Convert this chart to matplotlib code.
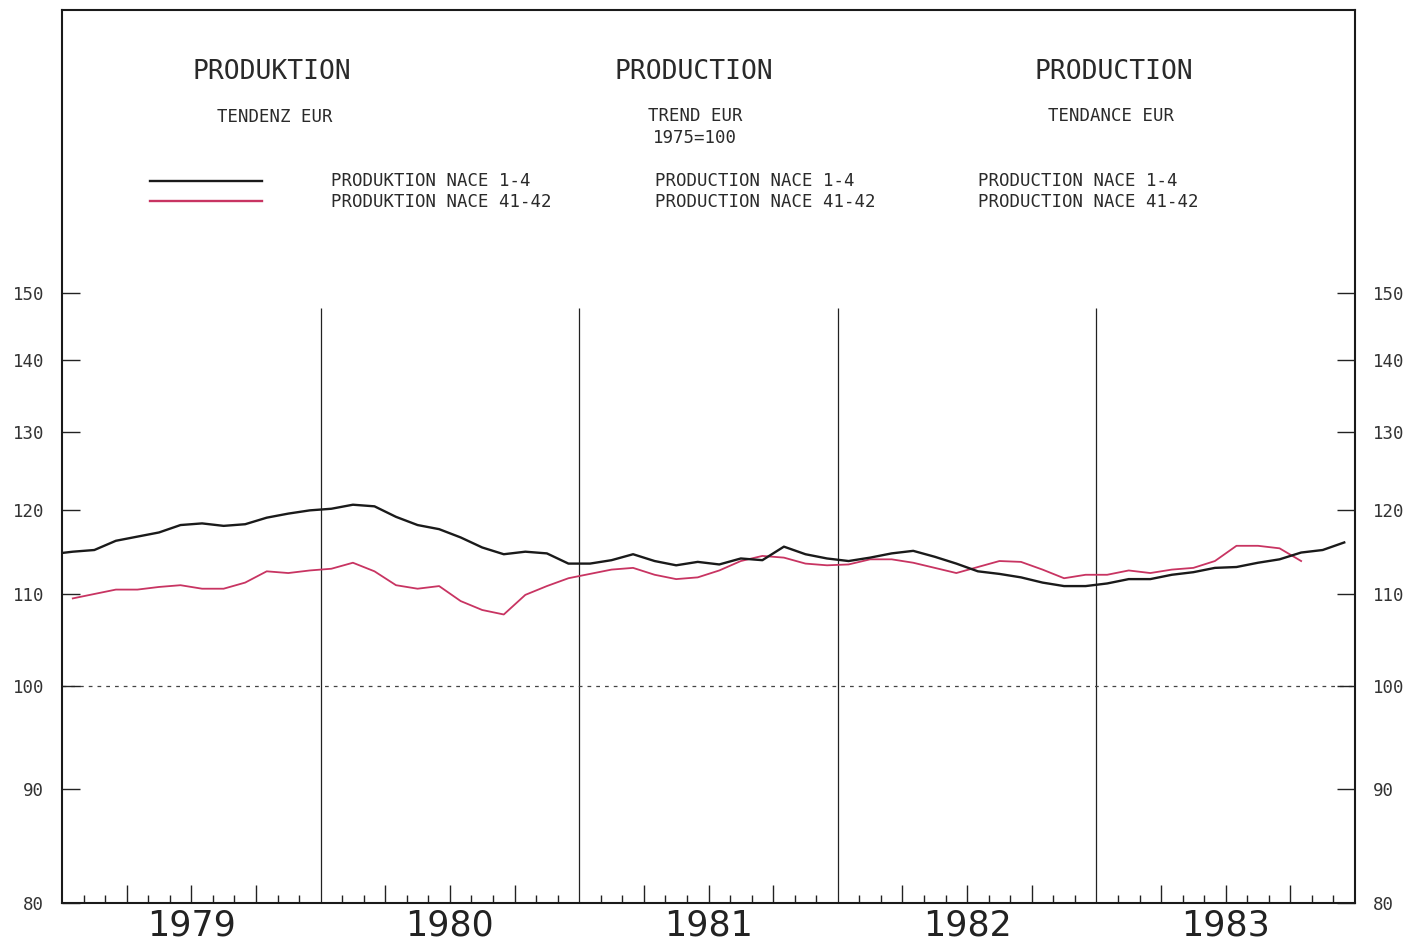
"""
Produktion / Production / Production - Tendenz EUR, 1975=100.
Zwei Monatsreihen (NACE 1-4 und NACE 41-42) auf logarithmischer Skala.
"""

import numpy as np
import matplotlib
matplotlib.use("Agg")
import matplotlib.pyplot as plt
from matplotlib.lines import Line2D
from matplotlib.ticker import FixedLocator, FixedFormatter, NullLocator
from matplotlib.transforms import blended_transform_factory

# Monatswerte NACE 1-4 (Dez 1978 .. Dez 1983)
nace_1_4 = [
    114.6,
    114.9, 115.1, 116.2, 116.7, 117.2, 118.1, 118.3, 118.0, 118.2, 119.0, 119.5, 119.9,
    120.1, 120.6, 120.4, 119.1, 118.1, 117.6, 116.6, 115.4, 114.6, 114.9, 114.7, 113.5,
    113.5, 113.9, 114.6, 113.8, 113.3, 113.7, 113.4, 114.1, 113.9, 115.5, 114.6, 114.1,
    113.8, 114.2, 114.7, 115.0, 114.3, 113.5, 112.6, 112.3, 111.9, 111.3, 110.9, 110.9,
    111.2, 111.7, 111.7, 112.2, 112.5, 113.0, 113.1, 113.6, 114.0, 114.8, 115.1, 116.0,
]
# Monatswerte NACE 41-42 (Jan 1979 .. Okt 1983)
nace_41_42 = [
    109.5, 110.0, 110.5, 110.5, 110.8, 111.0, 110.6, 110.6, 111.3, 112.6, 112.4, 112.7,
    112.9, 113.6, 112.6, 111.0, 110.6, 110.9, 109.2, 108.2, 107.7, 109.9, 110.9, 111.8,
    112.3, 112.8, 113.0, 112.2, 111.7, 111.9, 112.7, 113.8, 114.4, 114.2, 113.5, 113.3,
    113.4, 114.0, 114.0, 113.6, 113.0, 112.4, 113.1, 113.8, 113.7, 112.8, 111.8, 112.2,
    112.2, 112.7, 112.4, 112.8, 113.0, 113.8, 115.6, 115.6, 115.3, 113.8,
]
years = [1979, 1980, 1981, 1982, 1983]
y_ticks = [80, 90, 100, 110, 120, 130, 140, 150]

W, H = 1407, 943


def fx(px):
    return px / W


def fy(py):
    return 1 - py / H


def monatsmitte(start_year, start_month, n):
    """Dezimaljahr der Monatsmitte fuer n Monate ab start."""
    k = np.arange(n) + (start_month - 1)
    return start_year + (k + 0.5) / 12


def main():
    fig = plt.figure(figsize=(W / 100, H / 100), dpi=100)
    ax = fig.add_axes([fx(62), fy(903), fx(1355) - fx(62), fy(10) - fy(903)])

    x_a = monatsmitte(1978, 12, len(nace_1_4))
    x_b = monatsmitte(1979, 1, len(nace_41_42))

    ax.set_yscale("log")
    ax.set_xlim(1979, 1984)
    ax.set_ylim(80, 200.8)

    # Jahrestrenner und 100-Linie
    ax.vlines(years[1:], 80, 147.7, color="#222222", lw=0.9, zorder=1)
    ax.axhline(100, ls=(0, (3, 4)), lw=0.9, color="#444444", zorder=1)

    ax.plot(x_a, nace_1_4, color="#1a1a1a", lw=1.7, zorder=3)
    ax.plot(x_b, nace_41_42, color="#c83462", lw=1.3, zorder=2)

    # Achsen
    for s in ax.spines.values():
        s.set_linewidth(1.5)
        s.set_color("#1a1a1a")

    ax.yaxis.set_major_locator(FixedLocator(y_ticks))
    ax.yaxis.set_major_formatter(FixedFormatter([str(v) for v in y_ticks]))
    ax.yaxis.set_minor_locator(NullLocator())
    ax.tick_params(axis="y", which="major", left=True, right=True,
                   labelleft=True, labelright=True, direction="in",
                   length=13, width=1, pad=13, labelsize=12.5,
                   labelcolor="#333333", color="#222222")
    for lab in ax.get_yticklabels():
        lab.set_family("DejaVu Sans Mono")

    quartale = [y + q / 12 for y in years for q in (3, 6, 9)]
    monate = [y + m / 12 for y in years for m in range(1, 12) if m % 3 != 0]
    ax.xaxis.set_major_locator(FixedLocator(quartale))
    ax.xaxis.set_minor_locator(FixedLocator(monate))
    ax.tick_params(axis="x", which="major", direction="in", length=13,
                   width=1, labelbottom=False, color="#222222")
    ax.tick_params(axis="x", which="minor", direction="in", length=6,
                   width=1, color="#222222")

    # Jahreszahlen unter der Achse
    trans = blended_transform_factory(ax.transData, fig.transFigure)
    for y in years:
        ax.text(y + 0.5, fy(942), str(y), transform=trans, ha="center",
                va="bottom", fontsize=25, color="#222222", family="DejaVu Sans",
                clip_on=False)

    # Kopftexte
    mono = dict(family="DejaVu Sans Mono", color="#2a2a2a")
    fig.text(fx(272), fy(72), "PRODUKTION", ha="center", va="center", fontsize=19, **mono)
    fig.text(fx(694), fy(72), "PRODUCTION", ha="center", va="center", fontsize=19, **mono)
    fig.text(fx(1114), fy(72), "PRODUCTION", ha="center", va="center", fontsize=19, **mono)

    fig.text(fx(275), fy(117), "TENDENZ EUR", ha="center", va="center", fontsize=12.5, **mono)
    fig.text(fx(648), fy(116), "TREND EUR", ha="left", va="center", fontsize=12.5, **mono)
    fig.text(fx(653), fy(138), "1975=100", ha="left", va="center", fontsize=12.5, **mono)
    fig.text(fx(1111), fy(116), "TENDANCE EUR", ha="center", va="center", fontsize=12.5, **mono)

    for left, wort in [(331, "PRODUKTION"), (655, "PRODUCTION"), (978, "PRODUCTION")]:
        fig.text(fx(left), fy(181), wort + " NACE 1-4", ha="left", va="center",
                 fontsize=12.5, **mono)
        fig.text(fx(left), fy(202), wort + " NACE 41-42", ha="left", va="center",
                 fontsize=12.5, **mono)

    fig.add_artist(Line2D([fx(150), fx(262)], [fy(181), fy(181)],
                          transform=fig.transFigure, color="#1a1a1a", lw=1.7))
    fig.add_artist(Line2D([fx(150), fx(262)], [fy(201), fy(201)],
                          transform=fig.transFigure, color="#c83462", lw=1.7))

    fig.savefig("out.png", dpi=100)


if __name__ == "__main__":
    main()
